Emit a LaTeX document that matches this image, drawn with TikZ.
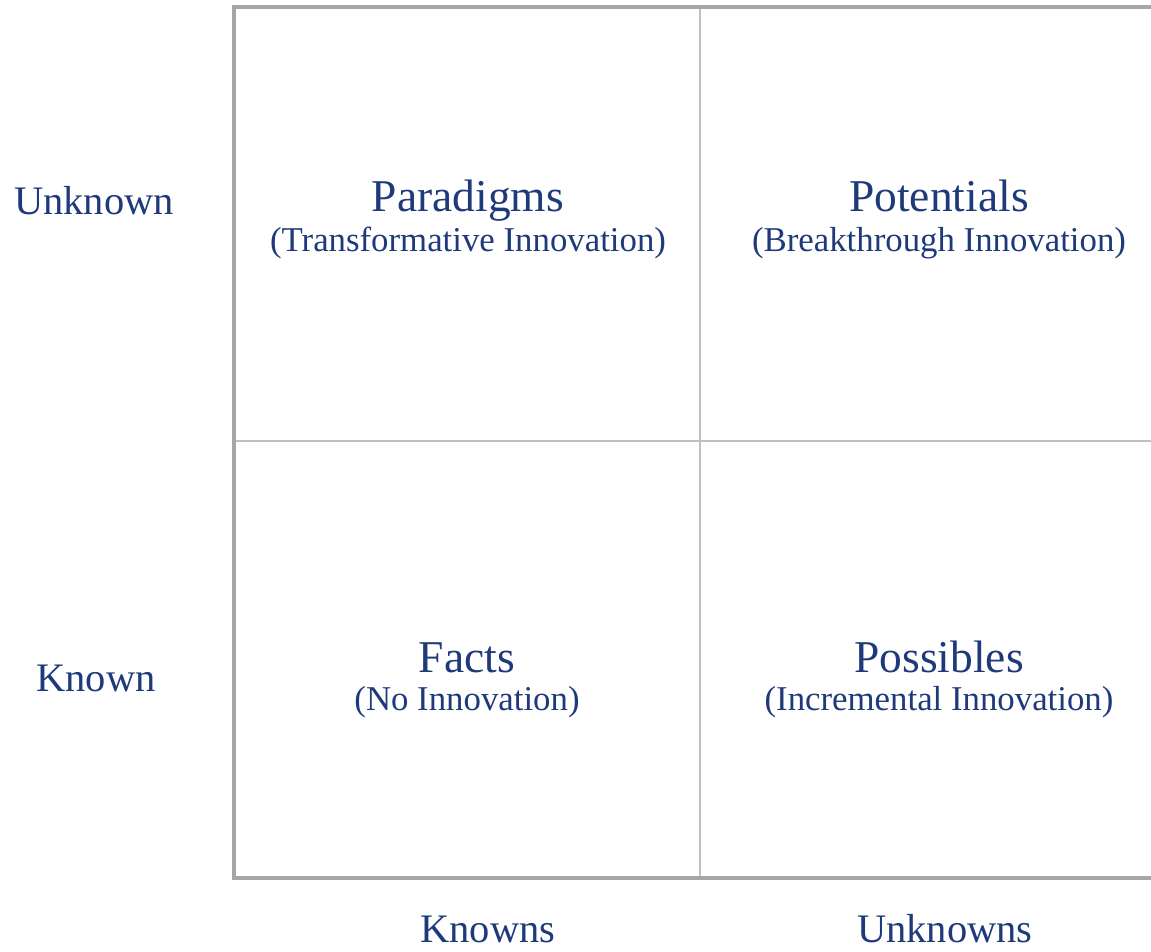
\documentclass[tikz,border=0pt]{standalone}
\usepackage{fontspec}
\setmainfont{Liberation Serif}
\definecolor{txt}{RGB}{31,58,122}
\definecolor{outer}{RGB}{166,166,166}
\definecolor{inner}{RGB}{192,192,192}
\begin{document}
\begin{tikzpicture}[x=1pt,y=-1pt,
  title/.style={anchor=base,text=txt,font=\fontsize{45.5}{50}\selectfont,inner sep=0pt},
  sub/.style={anchor=base,text=txt,font=\fontsize{34.8}{38}\selectfont,inner sep=0pt},
  axis/.style={anchor=base,text=txt,font=\fontsize{40.5}{44}\selectfont,inner sep=0pt},
  frame/.style={draw=outer,line width=4pt},
  grid/.style={draw=inner,line width=2.2pt}]
\useasboundingbox (0,0) rectangle (1151,951);
\coordinate (tl) at (234,7);
\coordinate (bl) at (234,878);
\coordinate (tr) at (1151,7);
\coordinate (br) at (1151,878);
\coordinate (vt) at (700,7);
\coordinate (vb) at (700,878);
\coordinate (hl) at (234,441);
\coordinate (hr) at (1151,441);
\draw[grid] (vt) -- (vb);
\draw[grid] (hl) -- (hr);
\draw[frame] (tr) -- (tl) -- (bl) -- (br);
\node[title] (p1) at (468,211) {Paradigms};
\node[sub] (p1s) at (468,251) {(Transformative Innovation)};
\node[title] (p2) at (939,211) {Potentials};
\node[sub] (p2s) at (939,251) {(Breakthrough Innovation)};
\node[title] (f1) at (467,672) {Facts};
\node[sub] (f1s) at (467,710) {(No Innovation)};
\node[title] (f2) at (939,672) {Possibles};
\node[sub] (f2s) at (939,710) {(Incremental Innovation)};
\node[axis] (yu) at (94,214) {Unknown};
\node[axis] (yk) at (96,691) {Known};
\node[axis] (xk) at (488,942) {Knowns};
\node[axis] (xu) at (945,942) {Unknowns};
\end{tikzpicture}
\end{document}
